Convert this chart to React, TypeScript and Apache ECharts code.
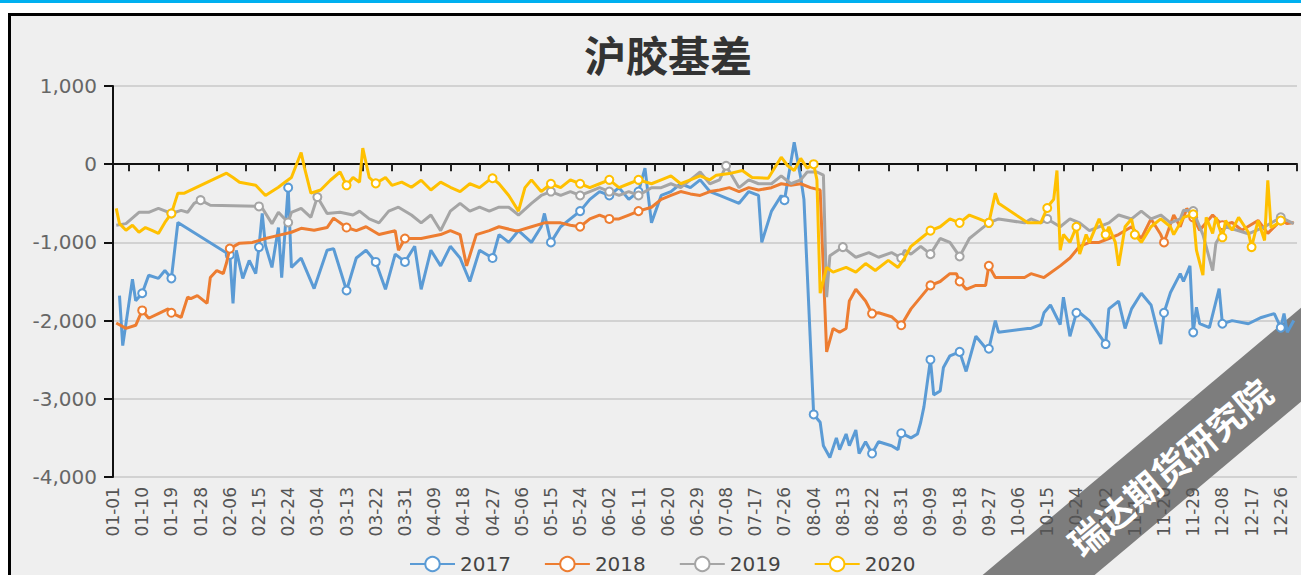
import React, { useEffect, useRef } from 'react';
import * as echarts from 'echarts';

// Categories: month-day of a leap year calendar
const monthDays = [31, 29, 31, 30, 31, 30, 31, 31, 30, 31, 30, 31];
const categories: string[] = [];
monthDays.forEach((n, m) => {
  for (let d = 1; d <= n; d++) {
    categories.push(`${String(m + 1).padStart(2, '0')}-${String(d).padStart(2, '0')}`);
  }
});

const titleText = '沪胶基差';
const seriesNames = ['2017', '2018', '2019', '2020'];
const seriesColors = ['#5b9bd5', '#ed7d31', '#a5a5a5', '#ffc000'];
const yMin = -4000;
const yMax = 1000;
const yStep = 1000;
const watermarkText = '瑞达期货研究院';

// [day-of-year index, basis value]
const basis2017: [number, number][] = [
  [2, -1680], [3, -2320], [6, -1470], [7, -1745], [9, -1650], [11, -1420], [14, -1460], [16, -1360], [18, -1460], [20, -745],
  [36, -1160], [37, -1780], [38, -1100], [40, -1460], [42, -1230], [44, -1400], [45, -1060], [46, -630], [47, -1040], [49, -1320],
  [51, -810], [52, -1450], [54, -300], [55, -1320], [58, -1200], [62, -1590], [66, -1100], [68, -1080], [72, -1615],
  [75, -1200], [78, -1100], [81, -1250], [84, -1600], [87, -1150], [90, -1250], [93, -1050], [95, -1600], [98, -1100], [101, -1300],
  [104, -1050], [107, -1200], [110, -1500], [113, -1100], [117, -1200], [119, -900], [122, -1000], [125, -850], [129, -1000], [132, -800],
  [133, -630], [135, -1000], [138, -800], [141, -700], [144, -600], [147, -450], [150, -350], [153, -400], [156, -300], [159, -450],
  [162, -350], [164, -50], [166, -750], [169, -400], [172, -350], [175, -250], [178, -300], [181, -200], [184, -350], [187, -400],
  [190, -450], [193, -500], [196, -350], [199, -400], [200, -1000], [203, -600], [206, -400], [207, -460], [210, 280], [212, -170],
  [213, -450], [216, -3200], [218, -3300], [219, -3600], [221, -3750], [223, -3500], [224, -3650], [226, -3450], [227, -3600], [229, -3400],
  [230, -3700], [232, -3550], [234, -3700], [236, -3550], [240, -3600], [242, -3650], [243, -3440], [246, -3500], [248, -3450], [249, -3300],
  [250, -3100], [252, -2500], [253, -2950], [255, -2900], [256, -2600], [258, -2450], [261, -2400], [263, -2650], [266, -2200], [269, -2350],
  [270, -2360], [272, -2000], [273, -2150], [282, -2100], [283, -2100], [286, -2050], [287, -1900], [289, -1800], [292, -2050], [293, -1700],
  [295, -2200], [297, -1900], [298, -1900], [301, -2000], [306, -2300], [307, -1850], [310, -1750], [312, -2100], [314, -1850], [317, -1650],
  [320, -1800], [323, -2300], [324, -1900], [326, -1640], [329, -1400], [330, -1500], [332, -1300], [333, -2150], [334, -1830], [335, -2040],
  [338, -2090], [341, -1590], [342, -2040], [345, -2000], [350, -2040], [354, -1960], [358, -1910], [360, -2090], [361, -1910], [362, -2150],
  [364, -2000],
];

const basis2018: [number, number][] = [
  [1, -2030], [4, -2100], [7, -2060], [9, -1870], [11, -1970], [14, -1910], [17, -1850], [18, -1900], [21, -1960], [23, -1700],
  [24, -1720], [26, -1680], [29, -1780], [30, -1450], [32, -1360], [34, -1400], [35, -1260], [36, -1080], [39, -1010], [43, -1000],
  [47, -950], [51, -910], [55, -870], [58, -820], [62, -845], [66, -810], [68, -690], [72, -810], [75, -850], [78, -800],
  [82, -900], [87, -850], [88, -1100], [90, -950], [95, -950], [101, -900], [104, -850], [107, -900], [109, -1300], [112, -900],
  [116, -850], [119, -800], [124, -850], [125, -850], [129, -800], [133, -750], [138, -750], [141, -780], [144, -800], [147, -700],
  [150, -650], [153, -700], [156, -700], [159, -650], [162, -600], [166, -550], [169, -450], [172, -400], [175, -350], [178, -380],
  [181, -400], [184, -350], [187, -330], [190, -300], [193, -350], [196, -300], [199, -330], [203, -300], [206, -250], [209, -270],
  [212, -250], [215, -300], [218, -330], [220, -2400], [222, -2100], [224, -2150], [226, -2100], [227, -1750], [229, -1600], [232, -1750],
  [234, -1910], [236, -1900], [240, -1950], [243, -2060], [246, -1850], [249, -1700], [252, -1550], [255, -1500], [258, -1400], [260, -1400],
  [261, -1500], [263, -1600], [266, -1550], [269, -1550], [270, -1300], [272, -1450], [273, -1450], [281, -1450], [283, -1400], [287, -1450],
  [292, -1300], [295, -1200], [298, -1050], [301, -1000], [304, -1000], [307, -950], [310, -900], [314, -800], [317, -950], [320, -700],
  [323, -900], [324, -1000], [327, -650], [329, -800], [331, -565], [333, -680], [335, -845], [339, -650], [342, -780], [345, -745],
  [348, -845], [353, -720], [356, -885], [360, -720], [362, -760], [364, -745],
];

const basis2019: [number, number][] = [
  [1, -780], [4, -760], [8, -615], [11, -615], [14, -565], [18, -630], [21, -590], [23, -615], [25, -500], [27, -460],
  [30, -525], [45, -540], [46, -560], [49, -760], [51, -615], [54, -745], [55, -615], [58, -565], [61, -680], [63, -420],
  [66, -630], [70, -615], [74, -650], [76, -600], [79, -700], [82, -750], [85, -600], [88, -550], [92, -650], [95, -750],
  [98, -650], [101, -850], [104, -600], [107, -500], [110, -600], [113, -550], [116, -600], [119, -550], [122, -550], [125, -650],
  [129, -500], [132, -400], [135, -350], [138, -400], [141, -350], [144, -400], [147, -350], [150, -300], [153, -350], [156, -400],
  [159, -350], [162, -400], [166, -300], [169, -300], [172, -250], [175, -300], [178, -200], [181, -100], [184, -250], [187, -200],
  [189, -20], [193, -300], [196, -200], [199, -250], [203, -250], [206, -150], [209, -250], [212, -200], [214, -100], [217, -100],
  [219, -140], [220, -1700], [221, -1170], [225, -1060], [229, -1190], [233, -1130], [236, -1190], [240, -1130], [243, -1200], [244, -1100],
  [246, -1150], [249, -1050], [252, -1150], [255, -950], [258, -1000], [261, -1180], [264, -950], [267, -850], [270, -750], [273, -700],
  [281, -750], [283, -700], [286, -750], [288, -700], [292, -800], [295, -700], [298, -750], [301, -850], [304, -800], [307, -750],
  [310, -650], [314, -700], [317, -600], [320, -700], [323, -650], [326, -750], [329, -700], [330, -590], [333, -600], [336, -900],
  [339, -1360], [340, -1010], [343, -800], [350, -890], [355, -800], [360, -680], [364, -760],
];

const basis2020: [number, number][] = [
  [1, -565], [2, -760], [4, -845], [6, -780], [8, -870], [10, -810], [12, -845], [14, -885], [16, -745], [18, -630],
  [20, -370], [22, -370], [35, -115], [37, -170], [39, -230], [44, -270], [47, -400], [51, -295], [53, -230], [55, -170],
  [58, 150], [59, -40], [61, -370], [64, -330], [67, -205], [70, -100], [72, -270], [74, -170], [76, -230], [77, 205],
  [79, -170], [81, -245], [84, -170], [86, -270], [89, -230], [92, -295], [95, -205], [98, -330], [101, -230], [104, -295],
  [107, -350], [110, -250], [113, -300], [116, -200], [117, -180], [119, -250], [122, -400], [125, -600], [127, -300], [129, -200],
  [132, -350], [135, -250], [138, -300], [141, -200], [144, -250], [147, -300], [150, -250], [153, -200], [156, -300], [159, -250],
  [162, -200], [166, -250], [169, -200], [172, -150], [175, -250], [178, -200], [181, -150], [184, -200], [186, -140], [190, -120],
  [194, -80], [197, -170], [202, -180], [206, 90], [208, -20], [210, -80], [212, 75], [214, -50], [216, 0], [217, -200],
  [218, -1650], [220, -1320], [222, -1380], [226, -1320], [229, -1380], [232, -1270], [235, -1360], [239, -1230], [242, -1320], [244, -1200],
  [246, -1050], [249, -950], [252, -850], [255, -800], [258, -700], [261, -750], [264, -650], [267, -700], [270, -750], [272, -370],
  [273, -500], [282, -750], [286, -750], [288, -560], [289, -500], [290, -450], [291, -80], [292, -1100], [293, -900], [295, -1000],
  [297, -800], [298, -1150], [300, -900], [301, -1000], [304, -700], [306, -900], [307, -800], [309, -1000], [310, -1300], [312, -800],
  [314, -700], [315, -900], [317, -1000], [320, -800], [323, -700], [326, -800], [327, -900], [330, -680], [333, -640], [334, -1100],
  [336, -1420], [337, -680], [339, -885], [340, -680], [342, -935], [343, -720], [345, -845], [347, -680], [350, -870], [351, -1060],
  [353, -720], [355, -975], [356, -205], [357, -810], [359, -760], [360, -720],
];

const seriesData = [basis2017, basis2018, basis2019, basis2020];

const numFont = '"DejaVu Sans", sans-serif';
const cjkFont = '"Noto Sans CJK SC", sans-serif';

export default function App() {
  const ref = useRef<HTMLDivElement>(null);

  useEffect(() => {
    if (!ref.current) return;
    const chart = echarts.init(ref.current, undefined, { renderer: 'svg' });
    chart.setOption({
      animation: false,
      backgroundColor: 'transparent',
      title: {
        text: titleText,
        left: 568,
        top: 11,
        textStyle: { fontSize: 42, fontWeight: 'bold', color: '#333', fontFamily: cjkFont },
      },
      legend: {
        data: seriesNames,
        left: 393,
        top: 533,
        itemWidth: 45,
        itemHeight: 18,
        itemGap: 33,
        textStyle: { fontSize: 20, color: '#444', fontFamily: numFont },
      },
      grid: { left: 102, right: 4, top: 70, bottom: 98, containLabel: false },
      xAxis: [
        {
          type: 'category',
          data: categories,
          boundaryGap: false,
          position: 'bottom',
          z: 5,
          axisLine: { show: false, onZero: false },
          axisTick: { show: false },
          splitLine: { show: false },
          axisLabel: {
            interval: 8,
            rotate: 90,
            fontSize: 17,
            color: '#555',
            margin: 10,
            fontFamily: numFont,
          },
        },
        {
          type: 'category',
          data: categories,
          boundaryGap: false,
          position: 'bottom',
          axisLine: { show: true, onZero: true, lineStyle: { color: '#111', width: 2 } },
          axisTick: {
            show: true,
            interval: (i: number) => i % 9 === 5,
            length: 7,
            lineStyle: { color: '#222', width: 2 },
          },
          axisLabel: { show: false },
          splitLine: { show: false },
        },
      ],
      yAxis: {
        type: 'value',
        min: yMin,
        max: yMax,
        interval: yStep,
        axisLine: { show: true, lineStyle: { color: '#111', width: 2 } },
        axisTick: { show: true, length: 9, lineStyle: { color: '#111', width: 2 } },
        axisLabel: {
          fontSize: 20,
          color: '#666',
          margin: 16,
          fontFamily: numFont,
          formatter: (v: number) => v.toLocaleString('en-US'),
        },
        splitLine: { show: true, lineStyle: { color: '#c8c8c8', width: 1.5 } },
      },
      series: seriesNames.map((name, i) => ({
        name,
        type: 'line',
        xAxisIndex: 0,
        data: seriesData[i],
        symbol: 'emptyCircle',
        symbolSize: 8,
        color: seriesColors[i],
        lineStyle: { width: 3, color: seriesColors[i] },
        itemStyle: { color: seriesColors[i], borderWidth: 1.5 },
        z: 2 + i * 0.1,
      })),
      graphic: [
        {
          type: 'group',
          x: 1142,
          y: 463,
          rotation: (40 * Math.PI) / 180,
          children: [
            {
              type: 'rect',
              z: 1,
              shape: { x: -420, y: -36, width: 840, height: 72 },
              style: { fill: '#7d7d7d' },
            },
          ],
        },
        {
          type: 'text',
          z: 20,
          x: 1158,
          y: 450,
          rotation: (40 * Math.PI) / 180,
          style: {
            text: watermarkText,
            x: 0,
            y: 0,
            align: 'center',
            verticalAlign: 'middle',
            fill: '#ffffff',
            font: `bold 36px ${cjkFont}`,
          },
        },
      ],
    });
    return () => chart.dispose();
  }, []);

  return (
    <div style={{ position: 'absolute', left: 0, top: 0, width: 1301, height: 575, overflow: 'hidden', background: '#fff' }}>
      <div style={{ position: 'absolute', left: 0, top: 0, width: 1301, height: 3, background: '#00b0f0' }} />
      <div
        style={{
          position: 'absolute',
          left: 8,
          top: 13,
          width: 1400,
          height: 700,
          border: '3px solid #000',
          background: '#efefef',
        }}
      />
      <div ref={ref} style={{ position: 'absolute', left: 11, top: 16, width: 1290, height: 559 }} />
    </div>
  );
}
